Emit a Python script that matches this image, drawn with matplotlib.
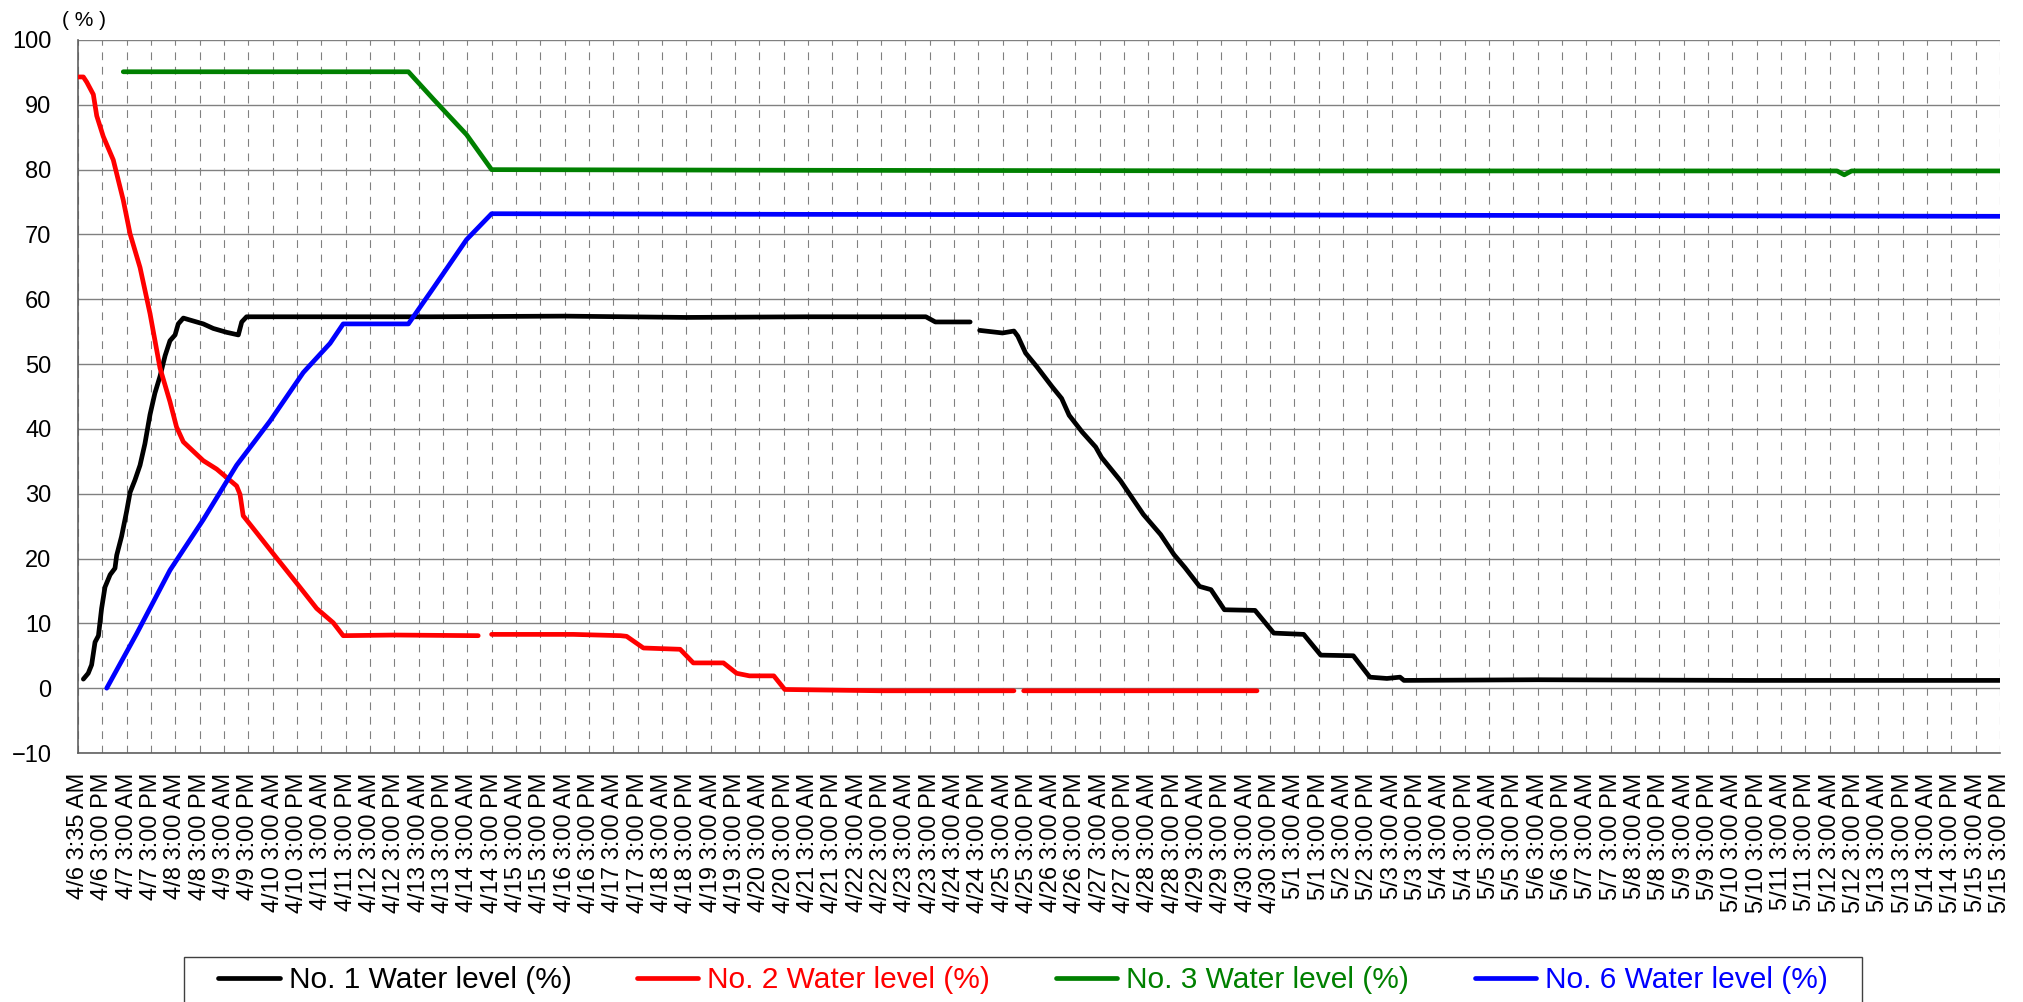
import numpy as np
import pandas as pd
import matplotlib
matplotlib.use("Agg")
import matplotlib.pyplot as plt
from matplotlib.patches import Rectangle

# positions are in tick-slot units (0 = "4/6 3:35 AM", one slot = 12 h on the axis)
no1_pos = [0.22, 0.42, 0.56, 0.70, 0.84, 0.97, 1.11, 1.32, 1.52, 1.59, 1.79, 2.00, 2.14, 2.34,
           2.55, 2.75, 2.96, 3.16, 3.37, 3.58, 3.78, 3.99, 4.12, 4.33, 4.60, 5.15, 5.56, 6.11,
           6.59, 6.73, 6.93, 14.5, 20.0, 25.0, 30.0, 34.85, 35.24, 36.67, 36.85, 37.06, 38.0,
           38.47, 38.63, 38.95, 39.41, 40.04, 40.43, 40.74, 41.28, 41.83, 42.07, 42.85, 43.32,
           43.79, 44.5, 45.05, 45.5, 46.1, 46.57, 47.12, 48.38, 49.15, 50.38, 51.08, 52.42,
           53.1, 53.8, 54.34, 54.5, 60.0, 68.7, 79.0]
no1_val = [1.4, 2.3, 3.6, 7.1, 8.1, 12.3, 15.6, 17.5, 18.5, 20.5, 23.4, 27.3, 30.2, 32.1,
           34.4, 37.7, 42.2, 45.5, 48.1, 51.3, 53.6, 54.5, 56.2, 57.1, 56.8, 56.2, 55.5, 54.9,
           54.5, 56.5, 57.3, 57.3, 57.4, 57.2, 57.3, 57.3, 56.5, 56.5, np.nan, 55.2, 54.8,
           55.1, 54.3, 51.7, 49.6, 46.5, 44.7, 42.1, 39.5, 37.2, 35.6, 32.0, 29.4,
           26.8, 23.7, 20.6, 18.6, 15.7, 15.2, 12.1, 12.0, 8.5, 8.3, 5.1, 5.0,
           1.7, 1.5, 1.7, 1.2, 1.3, 1.2, 1.2]

no2_pos = [0.0, 0.22, 0.36, 0.63, 0.77, 1.04, 1.45, 1.86, 2.14, 2.55, 2.96, 3.37, 3.78, 4.05,
           4.33, 5.15, 5.70, 6.52, 6.66, 6.79, 7.34, 8.16, 8.99, 9.81, 10.49, 10.90, 13.0,
           16.45, 16.7, 17.0, 20.36, 22.3, 22.55, 23.24, 24.75, 25.29, 26.53, 27.07, 27.6,
           28.6, 29.05, 33.0, 38.47, 38.67, 38.87, 43.0, 48.46]
no2_val = [94.3, 94.3, 93.5, 91.6, 88.3, 85.1, 81.5, 75.3, 70.1, 64.9, 57.8, 49.4, 44.2, 40.3,
           38.0, 35.1, 33.8, 31.2, 29.9, 26.6, 24.0, 20.1, 16.2, 12.3, 10.1, 8.1, 8.2,
           8.1, np.nan, 8.3, 8.3, 8.1, 8.0, 6.2, 6.0, 3.9, 3.9, 2.3, 1.9,
           1.9, -0.2, -0.4, -0.4, np.nan, -0.4, -0.4, -0.4]

no3_pos = [1.86, 8.0, 13.58, 14.6, 15.97, 17.0, 30.0, 50.0, 72.3, 72.6, 72.9, 79.0]
no3_val = [95.1, 95.1, 95.1, 90.9, 85.4, 80.0, 79.9, 79.8, 79.8, 79.2, 79.8, 79.8]

no6_pos = [1.18, 2.41, 3.78, 5.15, 6.52, 7.89, 9.26, 10.36, 10.9, 13.58, 14.6, 15.97, 17.0,
           30.0, 50.0, 79.0]
no6_val = [0.0, 8.4, 18.2, 26.0, 34.4, 41.2, 48.7, 53.2, 56.2, 56.2, 61.7, 69.2, 73.2,
           73.1, 73.0, 72.8]

series_names = ["No. 1 Water level (%)", "No. 2 Water level (%)",
                "No. 3 Water level (%)", "No. 6 Water level (%)"]
series_colors = ["#000000", "#ff0000", "#008000", "#0000ff"]

first_tick = pd.Timestamp("2024-04-06 03:35")
other_ticks = pd.date_range("2024-04-06 15:00", periods=79, freq="12h")


def fmt(t):
    h = t.hour % 12 or 12
    return f"{t.month}/{t.day} {h}:{t.minute:02d} {'AM' if t.hour < 12 else 'PM'}"


tick_labels = [fmt(first_tick)] + [fmt(t) for t in other_ticks]

plt.rcParams['font.family'] = ['Liberation Sans', 'DejaVu Sans']

W, H = 2024, 1002
fig = plt.figure(figsize=(W / 100, H / 100), dpi=100)
ax = fig.add_axes([78 / W, 1 - 753 / H, (2000 - 78) / W, (753 - 40) / H])

data = [(no1_pos, no1_val), (no2_pos, no2_val), (no3_pos, no3_val), (no6_pos, no6_val)]
handles = []
for (p, v), name, c in zip(data, series_names, series_colors):
    ln, = ax.plot(p, v, color=c, lw=3.4, label=name, solid_joinstyle='round',
                  solid_capstyle='round', zorder=3)
    handles.append(ln)

ax.set_xlim(0, len(tick_labels) - 1)
ax.set_ylim(-10, 100)
ax.set_yticks(range(-10, 101, 10))
ax.set_xticks(range(len(tick_labels)))
ax.set_xticklabels(tick_labels, rotation=90, fontsize=17, va='top', ha='center')
ax.tick_params(axis='x', length=0, pad=14)
ax.tick_params(axis='y', length=0, pad=19, labelsize=17)

ax.set_axisbelow(True)
ax.yaxis.grid(True, color='#808080', lw=1.0)
ax.xaxis.grid(True, color='#808080', lw=0.8, linestyle=(0, (7, 6)))

for s in ['top', 'right']:
    ax.spines[s].set_visible(False)
for s in ['left', 'bottom']:
    ax.spines[s].set_color('#606060')
    ax.spines[s].set_linewidth(1.2)

fig.text(62 / W, 1 - 21 / H, "( % )", fontsize=15, ha='left', va='center')

leg = fig.legend(handles, series_names, loc='center', bbox_to_anchor=(1023 / W, 1 - 980 / H),
                 ncol=4, frameon=False, fontsize=21.5, borderpad=0,
                 handlelength=2.05, handletextpad=0.3, columnspacing=2.2,
                 labelcolor='linecolor')

# legend frame runs past the bottom edge of the image, as in the original
fig.patches.append(Rectangle((184 / W, -0.05), (1862 - 184) / W, 0.05 + 1 - 957 / H,
                             transform=fig.transFigure, fill=False, edgecolor='#404040',
                             lw=1.0))

fig.savefig("out.png", dpi=100)
